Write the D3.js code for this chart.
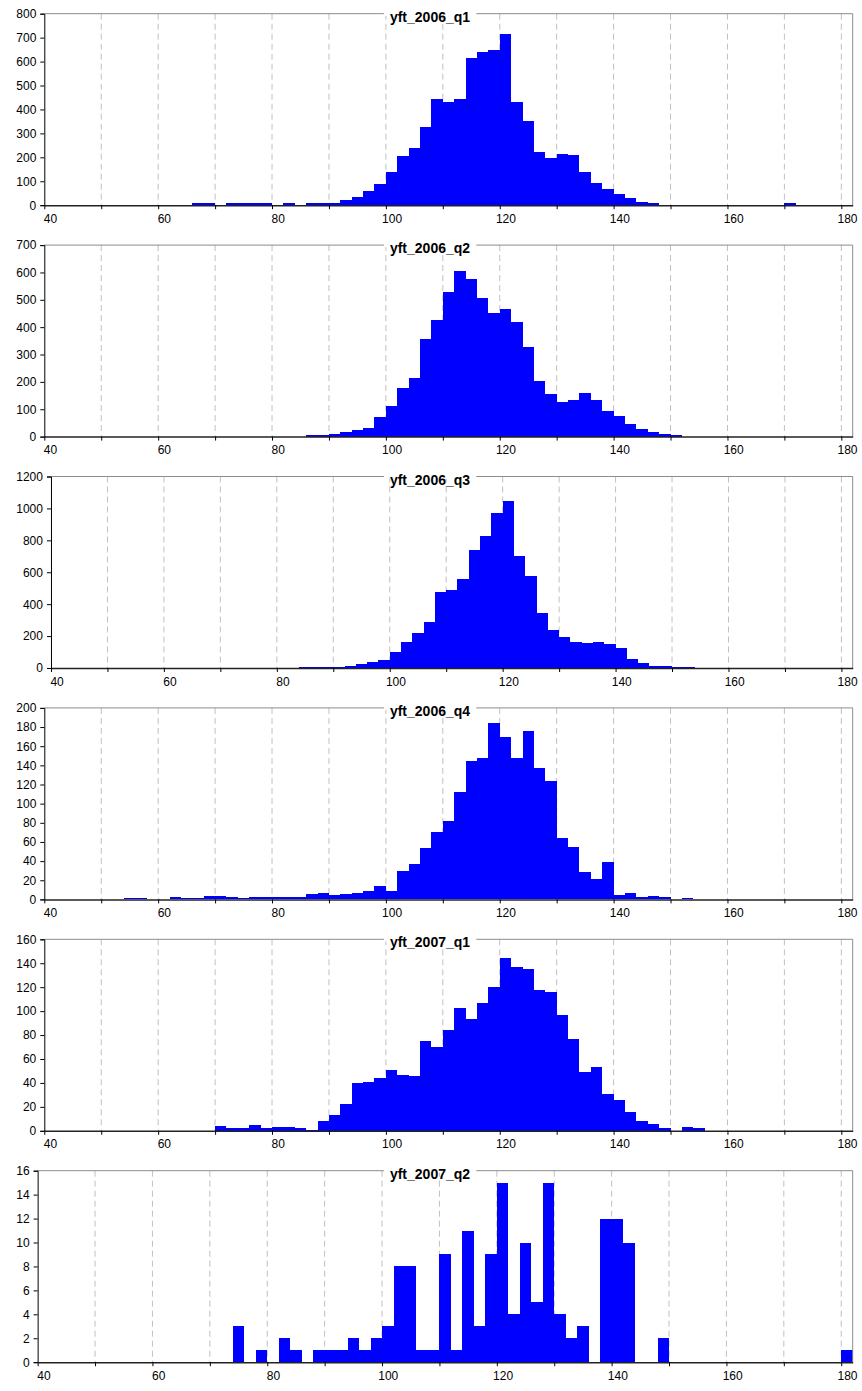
<!DOCTYPE html>
<html>
<head>
<meta charset="utf-8">
<script src="https://cdn.jsdelivr.net/npm/d3@7/dist/d3.min.js"></script>
<style>
  body { margin: 0; background: #fff; }
  text { font-family: "Liberation Sans", Arial, sans-serif; }
</style>
</head>
<body>
<div id="chart"></div>
<script>
// histogram bins: 2 cm wide, starting at 40
var binStart = 40;
var binWidth = 2;
var xTickLabels = [40, 60, 80, 100, 120, 140, 160, 180];

var titles = ["yft_2006_q1", "yft_2006_q2", "yft_2006_q3", "yft_2006_q4", "yft_2007_q1", "yft_2007_q2"];

// counts per bin, 40..180 (one row = 20 cm)
var q1_2006 = [
  0, 0, 0, 0, 0, 0, 0, 0, 0, 0,
  0, 0, 0, 8, 8, 0, 8, 8, 8, 8,
  0, 8, 0, 8, 8, 11, 20, 33, 61, 88,
  137, 205, 239, 327, 443, 430, 443, 616, 641, 648,
  716, 430, 350, 221, 196, 212, 208, 137, 91, 66,
  46, 28, 15, 11, 0, 0, 0, 0, 0, 0,
  0, 0, 0, 0, 0, 8, 0, 0, 0, 0,
  0
];
var q2_2006 = [
  0, 0, 0, 0, 0, 0, 0, 0, 0, 0,
  0, 0, 0, 0, 0, 0, 0, 0, 0, 0,
  0, 0, 0, 5, 5, 10, 15, 24, 32, 72,
  112, 176, 214, 358, 428, 530, 604, 575, 505, 451,
  465, 418, 327, 203, 156, 125, 134, 159, 134, 94,
  75, 47, 28, 15, 10, 6, 0, 0, 0, 0,
  0, 0, 0, 0, 0, 0, 0, 0, 0, 0,
  0
];
var q3_2006 = [
  0, 0, 0, 0, 0, 0, 0, 0, 0, 0,
  0, 0, 0, 0, 0, 0, 0, 0, 0, 0,
  0, 0, 8, 8, 8, 8, 15, 23, 35, 52,
  102, 160, 220, 289, 476, 489, 557, 738, 825, 973,
  1044, 701, 574, 345, 239, 195, 164, 158, 164, 152,
  127, 58, 33, 15, 15, 8, 8, 0, 0, 0,
  0, 0, 0, 0, 0, 0, 0, 0, 0, 0,
  0
];
var q4_2006 = [
  0, 0, 0, 0, 0, 0, 0, 1, 1, 0,
  0, 3, 1, 1, 4, 4, 3, 1, 3, 3,
  3, 3, 3, 6, 7, 5, 6, 7, 9, 14,
  9, 30, 37, 54, 70, 82, 112, 145, 148, 184,
  170, 148, 176, 137, 124, 64, 55, 29, 21, 39,
  5, 7, 3, 4, 3, 0, 1, 0, 0, 0,
  0, 0, 0, 0, 0, 0, 0, 0, 0, 0,
  0
];
var q1_2007 = [
  0, 0, 0, 0, 0, 0, 0, 0, 0, 0,
  0, 0, 0, 0, 0, 4, 2, 2, 5, 2,
  3, 3, 2, 1, 8, 13, 22, 40, 41, 44,
  51, 47, 46, 75, 70, 84, 103, 93, 107, 120,
  144, 137, 135, 118, 116, 97, 77, 49, 53, 31,
  26, 16, 8, 6, 2, 0, 3, 2, 0, 0,
  0, 0, 0, 0, 0, 0, 0, 0, 0, 0,
  0
];
var q2_2007 = [
  0, 0, 0, 0, 0, 0, 0, 0, 0, 0,
  0, 0, 0, 0, 0, 0, 0, 3, 0, 1,
  0, 2, 1, 0, 1, 1, 1, 2, 1, 2,
  3, 8, 8, 1, 1, 9, 1, 11, 3, 9,
  15, 4, 10, 5, 15, 4, 2, 3, 0, 12,
  12, 10, 0, 0, 2, 0, 0, 0, 0, 0,
  0, 0, 0, 0, 0, 0, 0, 0, 0, 0,
  1
];

var seriesList = [q1_2006, q2_2006, q3_2006, q4_2006, q1_2007, q2_2007];
var yMax = [800, 700, 1200, 200, 160, 16];
var yStep = [100, 100, 200, 20, 20, 2];

var W = 862, H = 1391;
var firstTop = 13.7, panelStep = 231.4, plotH = 191.5;
var right = 852.7;

var svg = d3.select("#chart")
  .append("svg")
  .attr("width", W)
  .attr("height", H);

seriesList.forEach(function (values, i) {
  var top = firstTop + i * panelStep;
  var bottom = top + plotH;
  var digits = String(yMax[i]).length;
  var left = 24.3 + digits * 6.67;

  var xScale = d3.scaleLinear()
    .domain([binStart, binStart + values.length * binWidth])
    .range([left, right]);
  var yScale = d3.scaleLinear()
    .domain([0, yMax[i]])
    .range([bottom, top]);

  var g = svg.append("g");

  // dashed vertical gridlines every 10
  var gridVals = d3.range(50, 181, 10);
  g.selectAll("line.grid")
    .data(gridVals)
    .enter()
    .append("line")
    .attr("class", "grid")
    .attr("x1", function (d) { return xScale(d); })
    .attr("x2", function (d) { return xScale(d); })
    .attr("y1", top)
    .attr("y2", bottom)
    .attr("stroke", "#c0c0c0")
    .attr("stroke-width", 1)
    .attr("stroke-dasharray", "6,4");

  // bars
  g.selectAll("rect.bar")
    .data(values)
    .enter()
    .append("rect")
    .attr("class", "bar")
    .attr("x", function (d, k) { return xScale(binStart + k * binWidth); })
    .attr("width", xScale(binStart + binWidth) - xScale(binStart))
    .attr("y", function (d) { return yScale(d); })
    .attr("height", function (d) { return bottom - yScale(d); })
    .attr("fill", "#0000ff")
    .attr("shape-rendering", "crispEdges");

  // top and right frame
  g.append("path")
    .attr("d", "M" + left + "," + top + "H" + right + "V" + bottom)
    .attr("fill", "none")
    .attr("stroke", "#8c8c8c")
    .attr("stroke-width", 1);

  // y axis
  var yAxis = d3.axisLeft(yScale)
    .tickValues(d3.range(0, yMax[i] + 1, yStep[i]))
    .tickSize(4)
    .tickPadding(4)
    .tickFormat(d3.format("d"));
  var ya = g.append("g")
    .attr("transform", "translate(" + left + ",0)")
    .call(yAxis);
  ya.select(".domain").attr("stroke", "#000");
  ya.selectAll("text").style("font-size", "12px").attr("fill", "#000");

  // x axis: ticks every 10, labels every 20 centred on their bin
  var xAxis = d3.axisBottom(xScale)
    .tickValues(d3.range(40, 181, 10))
    .tickSize(4)
    .tickPadding(5)
    .tickSizeOuter(0)
    .tickFormat(function (d) { return xTickLabels.indexOf(d) >= 0 ? d : ""; });
  var xa = g.append("g")
    .attr("transform", "translate(0," + bottom + ")")
    .call(xAxis);
  xa.select(".domain").attr("stroke", "#222").attr("stroke-width", 1.5);
  xa.selectAll("text")
    .style("font-size", "12px")
    .attr("fill", "#000")
    .attr("dx", xScale(binStart + binWidth / 2) - xScale(binStart));

  // title with white box over the frame
  var titleBox = g.append("rect").attr("fill", "#fff");
  var title = g.append("text")
    .attr("x", 430)
    .attr("y", top + 8)
    .attr("text-anchor", "middle")
    .style("font-size", "14px")
    .style("font-weight", "bold")
    .attr("fill", "#000")
    .text(titles[i]);
  var bb = title.node().getBBox();
  titleBox
    .attr("x", bb.x - 6)
    .attr("y", top - 2)
    .attr("width", bb.width + 12)
    .attr("height", 4);
});
</script>
</body>
</html>
